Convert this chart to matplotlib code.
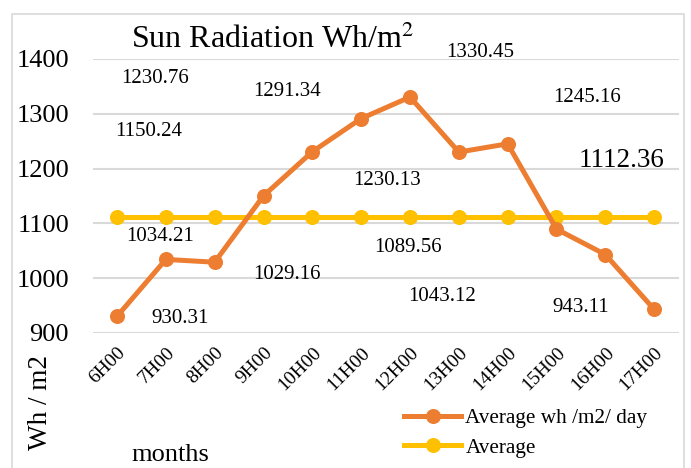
import matplotlib
matplotlib.use('Agg')
import matplotlib.pyplot as plt
from matplotlib.patches import Rectangle

# Hourly sun radiation readings
hours = ['6H00', '7H00', '8H00', '9H00', '10H00', '11H00',
         '12H00', '13H00', '14H00', '15H00', '16H00', '17H00']
radiation = [930.31, 1034.21, 1029.16, 1150.24, 1230.76, 1291.34,
             1330.45, 1230.13, 1245.16, 1089.56, 1043.12, 943.11]
average_value = 1112.36
y_ticks = [900, 1000, 1100, 1200, 1300, 1400]

# where the (scattered) data labels sit, in data units
label_pos = [(1.29, 927), (0.88, 1076), (3.48, 1007), (0.64, 1267),
             (0.78, 1365), (3.48, 1340), (7.44, 1411), (5.53, 1178),
             (9.63, 1329), (5.96, 1056), (6.66, 967), (9.49, 947)]
avg_label_pos = (10.33, 1215)

plt.rcParams['font.family'] = ['Liberation Serif', 'DejaVu Serif']

orange = '#ED7D31'
yellow = '#FFC000'

fig = plt.figure(figsize=(6.91, 4.68), dpi=100)
fig.patches.append(Rectangle((12 / 691, -0.1), 672 / 691, 1.1 - 14 / 468,
                             transform=fig.transFigure, fill=False,
                             edgecolor='#D9D9D9', linewidth=1.2))

ax = fig.add_axes([0.134, 0.2885, 0.848, 0.5855])
x = list(range(len(hours)))
ax.plot(x, radiation, color=orange, linewidth=3.6, marker='o', markersize=9.8,
        label='Average wh /m2/ day', zorder=3)
ax.plot(x, [average_value] * len(hours), color=yellow, linewidth=3.6, marker='o',
        markersize=9.8, label='Average', zorder=2)

for value, (lx, ly) in zip(radiation, label_pos):
    ax.text(lx, ly, f'{value:.2f}', ha='center', va='center', fontsize=15,
            clip_on=False)
ax.text(avg_label_pos[0], avg_label_pos[1], f'{average_value:.2f}', ha='center',
        va='center', fontsize=19.5)

ax.set_xlim(-0.5, len(hours) - 0.5)
ax.set_ylim(900, 1400)
ax.set_yticks(y_ticks)
ax.set_yticklabels([str(t) for t in y_ticks], fontsize=19)
ax.set_xticks(x)
ax.set_xticklabels(hours, fontsize=14, rotation=45, ha='right',
                   rotation_mode='anchor')
ax.tick_params(length=0)
ax.tick_params(axis='x', pad=8)
ax.tick_params(axis='y', pad=17)
ax.grid(axis='y', color='#D9D9D9', linewidth=1.5)
ax.set_axisbelow(True)
for spine in ax.spines.values():
    spine.set_visible(False)

fig.text(0.395, 0.915, 'Sun Radiation Wh/m$^2$', ha='center', va='center',
         fontsize=23, math_fontfamily='stix')
fig.text(0.058, 0.139, 'Wh / m2', rotation=90, ha='center', va='center',
         fontsize=19.5)
fig.text(0.246, 0.028, 'months', ha='center', va='center', fontsize=19)

fig.legend(loc='lower left', bbox_to_anchor=(0.566, -0.005), frameon=False,
           fontsize=15.3, handlelength=2.7, handletextpad=0.2,
           labelspacing=0.45, borderaxespad=0.2)

fig.savefig('out.png', dpi=100)
